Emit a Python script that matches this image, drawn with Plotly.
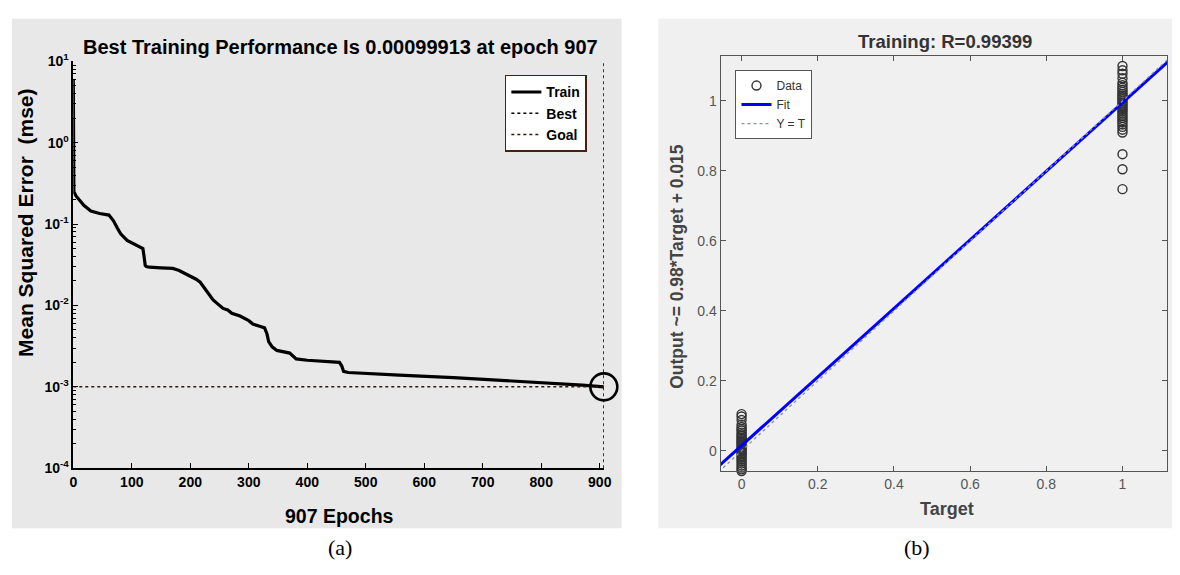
import plotly.graph_objects as go

W, H = 1180, 575

# ---------------- data: (a) training performance ----------------
epochs = [0, 1, 5, 10, 18, 30, 45, 61, 69, 75, 81, 92, 105, 112, 119, 121, 123, 125, 130,
          150, 170, 180, 190, 200, 210, 217, 228, 239, 256, 264, 271, 285, 300, 307, 320,
          327, 331, 334, 340, 348, 370, 376, 381, 400, 430, 455, 459, 462, 470, 500, 557,
          650, 727, 800, 870, 907]
mse = [6.0, 0.25, 0.22, 0.20, 0.17, 0.145, 0.135, 0.129, 0.109, 0.09, 0.076, 0.063, 0.057,
       0.054, 0.05, 0.04, 0.031, 0.03, 0.0295, 0.029, 0.0285, 0.027, 0.025, 0.023, 0.021,
       0.0193, 0.015, 0.0117, 0.0092, 0.0088, 0.0080, 0.0074, 0.0065, 0.0059, 0.0055,
       0.0053, 0.0045, 0.0036, 0.0031, 0.0028, 0.0026, 0.0024, 0.0022, 0.00212, 0.00205,
       0.0020, 0.0018, 0.00155, 0.00150, 0.00145, 0.00139, 0.0013, 0.00121, 0.00113,
       0.00105, 0.00099913]
best_epoch = 907
best_perf = 0.00099913
goal = 0.001
perf_ticks = [1e-4, 1e-3, 1e-2, 1e-1, 1, 10]
perf_ticktext = ["10<sup>-4</sup>", "10<sup>-3</sup>", "10<sup>-2</sup>", "10<sup>-1</sup>",
                 "10<sup>0</sup>", "10<sup>1</sup>"]
epoch_ticks = [0, 100, 200, 300, 400, 500, 600, 700, 800, 900]

# ---------------- data: (b) regression ----------------
target0_out = [0.105, 0.098, 0.088, 0.075, 0.068, 0.062, 0.058, 0.052, 0.047, 0.043, 0.038,
               0.034, 0.030, 0.026, 0.022, 0.018, 0.014, 0.010, 0.006, 0.002, -0.002,
               -0.006, -0.010, -0.015, -0.020, -0.025, -0.030, -0.036, -0.042, -0.048,
               -0.053, -0.058]
target1_out = [1.133, 1.100, 1.088, 1.078, 1.065, 1.052, 1.045, 1.038, 1.032, 1.026, 1.020,
               1.015, 1.010, 1.005, 1.000, 0.995, 0.990, 0.985, 0.980, 0.975, 0.970, 0.964,
               0.958, 0.952, 0.946, 0.940, 0.933, 0.926, 0.918, 0.910, 0.848, 0.805, 0.748]
fit_x = [-0.06, 1.14]
fit_y = [-0.0438, 1.1322]
ident_x = [-0.06, 1.14]
ident_y = [-0.06, 1.14]
reg_ticks = [0, 0.2, 0.4, 0.6, 0.8, 1]
reg_ticktext = ["0", "0.2", "0.4", "0.6", "0.8", "1"]


def px_x(p):
    return p / W


def px_y(p):
    return 1 - p / H


SANS = "Liberation Sans, Arial, Helvetica, sans-serif"
fig = go.Figure()

# (a)
fig.add_trace(go.Scatter(x=epochs, y=mse, mode="lines", name="Train",
                         line=dict(color="black", width=3.2), xaxis="x", yaxis="y",
                         legend="legend"))
fig.add_trace(go.Scatter(x=[best_epoch, best_epoch], y=[1e-4, 10], mode="lines", name="Best",
                         line=dict(color="black", width=1.5, dash="dot"), xaxis="x", yaxis="y",
                         legend="legend"))
fig.add_trace(go.Scatter(x=[0, best_epoch], y=[goal, goal], mode="lines", name="Goal",
                         line=dict(color="#3a1508", width=1.5, dash="dot"), xaxis="x", yaxis="y",
                         legend="legend"))
fig.add_trace(go.Scatter(x=[best_epoch], y=[best_perf], mode="markers", showlegend=False,
                         marker=dict(symbol="circle-open", size=27, color="black",
                                     line=dict(width=2.6, color="black")),
                         cliponaxis=False, xaxis="x", yaxis="y"))

# (b)
fig.add_trace(go.Scatter(x=[0] * len(target0_out) + [1] * len(target1_out),
                         y=target0_out + target1_out, mode="markers", name="Data",
                         marker=dict(symbol="circle-open", size=9, color="#333333",
                                     line=dict(width=1.4, color="#333333")),
                         xaxis="x2", yaxis="y2", legend="legend2", cliponaxis=False))
fig.add_trace(go.Scatter(x=fit_x, y=fit_y, mode="lines", name="Fit",
                         line=dict(color="#0000ff", width=3), xaxis="x2", yaxis="y2",
                         legend="legend2"))
fig.add_trace(go.Scatter(x=ident_x, y=ident_y, mode="lines", name="Y = T",
                         line=dict(color="#8890a8", width=1.3, dash="dot"), xaxis="x2",
                         yaxis="y2", legend="legend2"))

left_tick = dict(family=SANS, size=14, color="black", weight="bold")
right_tick = dict(family=SANS, size=14, color="#555555")

fig.update_layout(
    width=W, height=H, margin=dict(l=0, r=0, t=0, b=0),
    paper_bgcolor="white", plot_bgcolor="white",
    xaxis=dict(domain=[px_x(70), px_x(606)], range=[0, 907], tickvals=epoch_ticks,
               ticks="inside", ticklen=5, tickcolor="black", showline=True, linecolor="black",
               linewidth=1.5, showgrid=False, zeroline=False, tickfont=left_tick, anchor="y"),
    yaxis=dict(domain=[px_y(473), px_y(53)], type="log", range=[-4, 1], tickvals=perf_ticks,
               ticktext=perf_ticktext, ticks="inside", ticklen=5, tickcolor="black",
               showline=True, linecolor="black", linewidth=1.5, showgrid=False, zeroline=False,
               tickfont=left_tick, anchor="x",
               minor=dict(ticks="inside", ticklen=3, tickcolor="black",
                          tickvals=[m * 10 ** e for e in range(-4, 1) for m in range(2, 10)])),
    xaxis2=dict(domain=[px_x(724), px_x(1175)], range=[-0.055, 1.117], tickvals=reg_ticks,
                ticktext=reg_ticktext, ticks="inside", ticklen=5, tickcolor="#555555",
                showline=True, mirror="ticks", linecolor="#555555", linewidth=1.2,
                showgrid=False, zeroline=False, tickfont=right_tick, anchor="y2"),
    yaxis2=dict(domain=[px_y(476), px_y(47)], range=[-0.058, 1.13], tickvals=reg_ticks,
                ticktext=reg_ticktext, ticks="inside", ticklen=5, tickcolor="#555555",
                showline=True, mirror="ticks", linecolor="#555555", linewidth=1.2,
                showgrid=False, zeroline=False, tickfont=right_tick, anchor="x2"),
    legend=dict(x=px_x(506), y=px_y(67), xanchor="left", yanchor="top", bgcolor="white",
                bordercolor="#4a1f10", borderwidth=1.5,
                font=dict(family=SANS, size=14, color="black", weight="bold"),
                tracegroupgap=0, itemwidth=30),
    legend2=dict(x=px_x(739), y=px_y(62), xanchor="left", yanchor="top", bgcolor="white",
                 bordercolor="#555555", borderwidth=1,
                 font=dict(family=SANS, size=12, color="#333333"), tracegroupgap=0,
                 itemwidth=30),
    shapes=[
        dict(type="rect", xref="paper", yref="paper", x0=px_x(8), x1=px_x(624), y0=px_y(535),
             y1=px_y(9), fillcolor="#e8e8e8", line=dict(width=0), layer="below"),
        dict(type="rect", xref="paper", yref="paper", x0=px_x(661), x1=1, y0=px_y(535),
             y1=px_y(9), fillcolor="#f0f0f0", line=dict(width=0), layer="below"),
    ],
)


def label(text, x, y, size, color="black", bold=True, angle=0, family=SANS):
    f = dict(family=family, size=size, color=color)
    if bold:
        f["weight"] = "bold"
    return dict(text=text, x=px_x(x), y=px_y(y), xref="paper", yref="paper",
                xanchor="center", yanchor="middle", showarrow=False, textangle=angle, font=f)


SERIF = "Liberation Serif, DejaVu Serif, serif"
ann = [
    label("Best Training Performance Is 0.00099913 at epoch 907", 340, 38, 20),
    label("907 Epochs", 339, 522, 19.5),
    label("Mean Squared Error  (mse)", 21, 220, 21, angle=-90),
    label("Training: R=0.99399", 951, 33, 18.5, color="#333333"),
    label("Target", 953, 515, 18, color="#444444"),
    label("Output ~= 0.98*Target + 0.015", 680, 265, 17.5, color="#444444", angle=-90),
    label("(a)", 339, 555, 22, bold=False, family=SERIF),
    label("(b)", 922, 555, 22, bold=False, family=SERIF),
]
fig.update_layout(annotations=ann)

fig.write_html("out.html", config={"displayModeBar": False},
               post_script="document.body.style.margin='0px';")
